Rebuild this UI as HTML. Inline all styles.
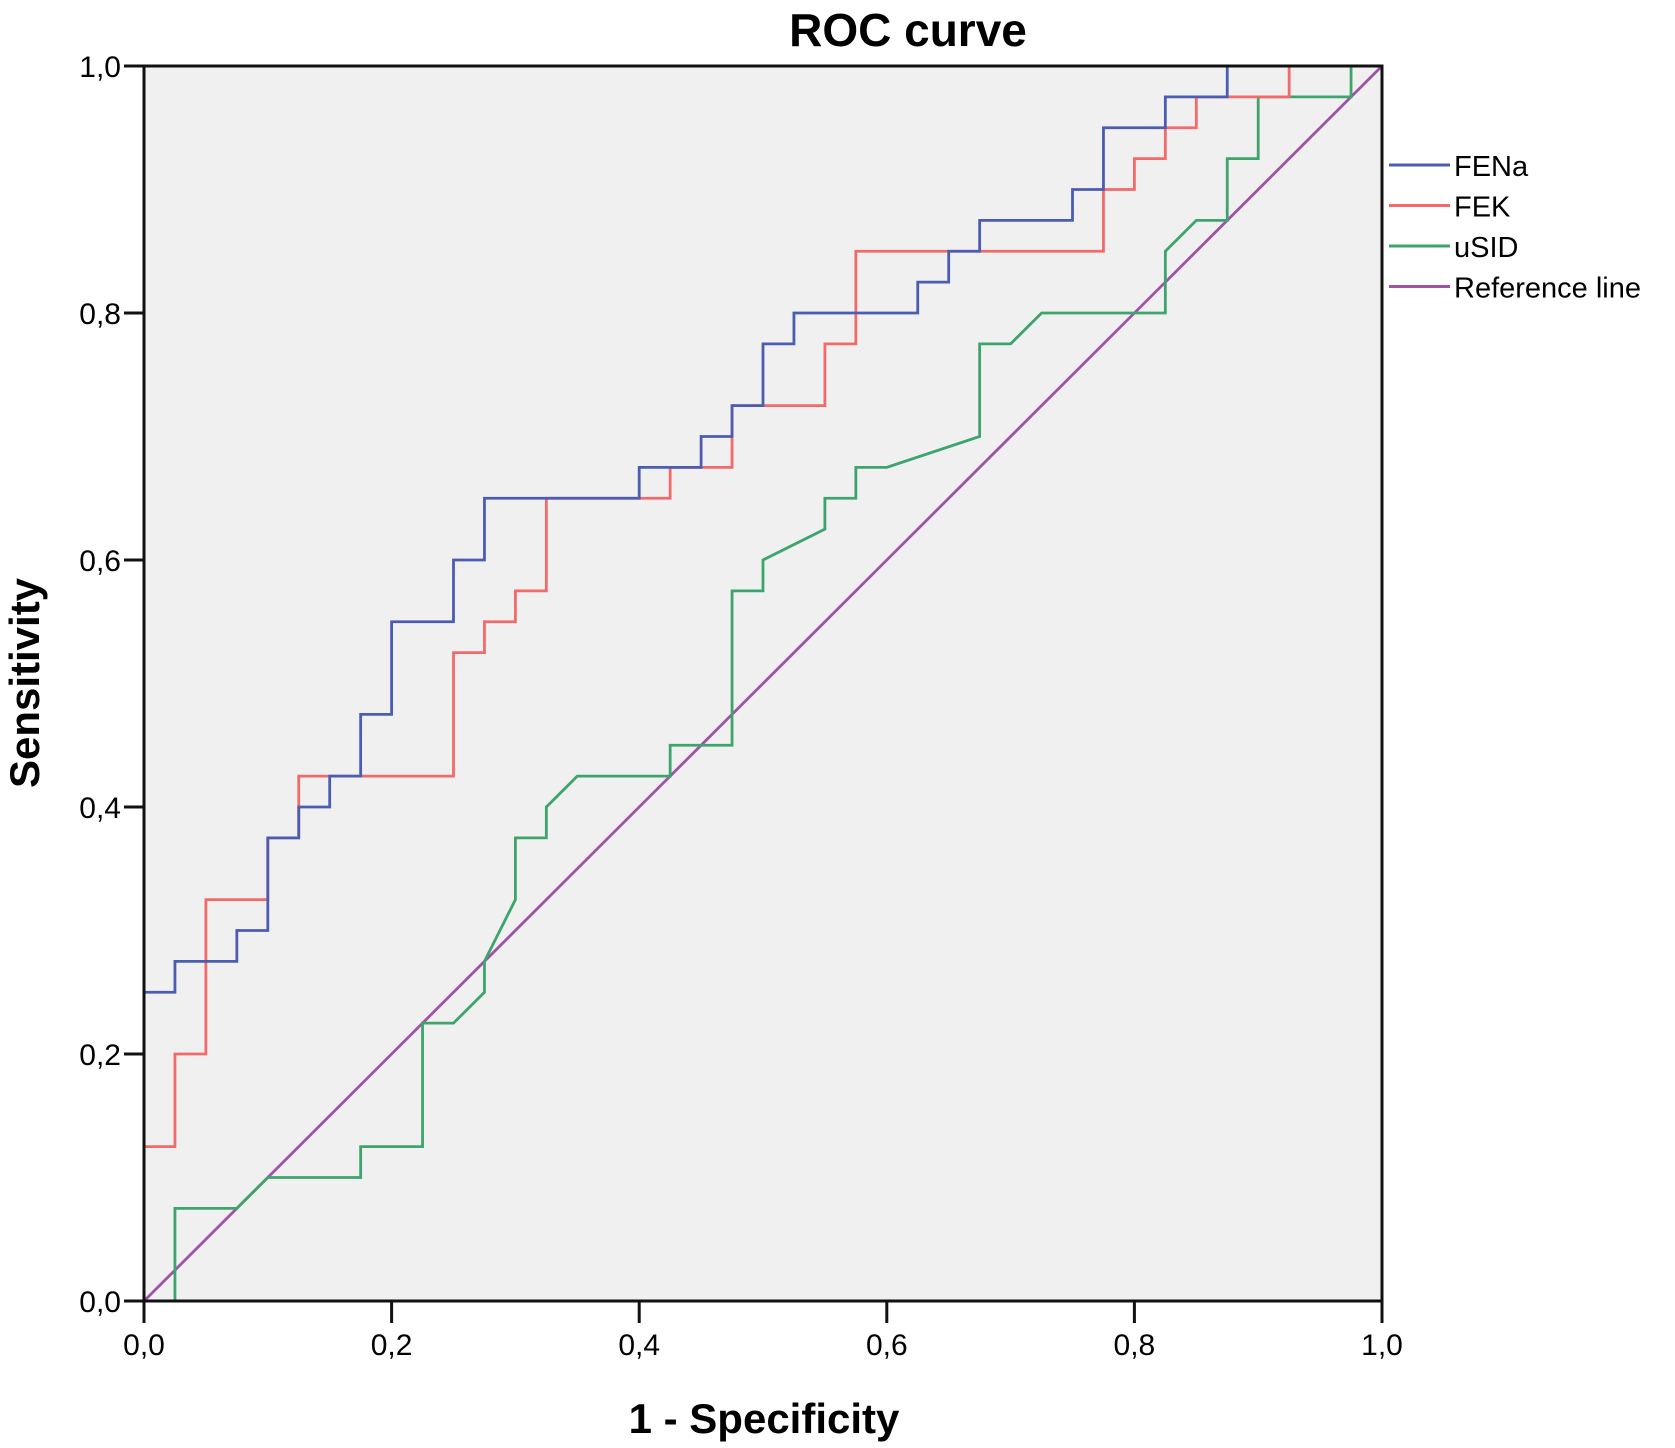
<!DOCTYPE html>
<html><head><meta charset="utf-8"><style>
body{margin:0;background:#fff;}
svg{display:block;font-family:"Liberation Sans",Arial,sans-serif;}
</style></head><body>
<svg id="chart" width="1675" height="1448" viewBox="0 0 1675 1448">
<text x="908" y="46" text-anchor="middle" font-size="46" font-weight="bold">ROC curve</text>
<rect x="144" y="66" width="1238" height="1235" fill="#f0f0f0"/>
<g id="series"></g>
<g id="axes"></g>
<text x="764" y="1433" text-anchor="middle" font-size="42" font-weight="bold">1 - Specificity</text>
<text transform="translate(39,683) rotate(-90)" text-anchor="middle" font-size="42" font-weight="bold">Sensitivity</text>
<g id="legend"></g>
</svg>
<script>
const ticks=[0,0.2,0.4,0.6,0.8,1.0];
const tickLabels=["0,0","0,2","0,4","0,6","0,8","1,0"];
const seriesNames=["FENa","FEK","uSID","Reference line"];
const fenaX=[0,0,0.025,0.025,0.075,0.075,0.1,0.1,0.125,0.125,0.15,0.15,0.175,0.175,0.2,0.2,0.25,0.25,0.275,0.275,0.4,0.4,0.45,0.45,0.475,0.475,0.5,0.5,0.525,0.525,0.625,0.625,0.65,0.65,0.675,0.675,0.75,0.75,0.775,0.775,0.825,0.825,0.875,0.875,1.0];
const fenaY=[0,0.25,0.25,0.275,0.275,0.3,0.3,0.375,0.375,0.4,0.4,0.425,0.425,0.475,0.475,0.55,0.55,0.6,0.6,0.65,0.65,0.675,0.675,0.7,0.7,0.725,0.725,0.775,0.775,0.8,0.8,0.825,0.825,0.85,0.85,0.875,0.875,0.9,0.9,0.95,0.95,0.975,0.975,1.0,1.0];
const fekX=[0,0,0.025,0.025,0.05,0.05,0.1,0.1,0.125,0.125,0.25,0.25,0.275,0.275,0.3,0.3,0.325,0.325,0.425,0.425,0.475,0.475,0.55,0.55,0.575,0.575,0.775,0.775,0.8,0.8,0.825,0.825,0.85,0.85,0.925,0.925,1.0];
const fekY=[0,0.125,0.125,0.2,0.2,0.325,0.325,0.375,0.375,0.425,0.425,0.525,0.525,0.55,0.55,0.575,0.575,0.65,0.65,0.675,0.675,0.725,0.725,0.775,0.775,0.85,0.85,0.9,0.9,0.925,0.925,0.95,0.95,0.975,0.975,1.0,1.0];
const usidX=[0,0.025,0.025,0.075,0.1,0.175,0.175,0.225,0.225,0.25,0.275,0.275,0.3,0.3,0.325,0.325,0.35,0.425,0.425,0.475,0.475,0.5,0.5,0.55,0.55,0.575,0.575,0.6,0.675,0.675,0.7,0.725,0.825,0.825,0.85,0.875,0.875,0.9,0.9,0.975,0.975,1.0];
const usidY=[0,0,0.075,0.075,0.1,0.1,0.125,0.125,0.225,0.225,0.25,0.275,0.325,0.375,0.375,0.4,0.425,0.425,0.45,0.45,0.575,0.575,0.6,0.625,0.65,0.65,0.675,0.675,0.7,0.775,0.775,0.8,0.8,0.85,0.875,0.875,0.925,0.925,0.975,0.975,1.0,1.0];
const refX=[0,1];
const refY=[0,1];
const NS="http://www.w3.org/2000/svg";
const X0=144,X1=1382,Y0=1301,Y1=66;
const sx=v=>X0+(X1-X0)*v, sy=v=>Y0-(Y0-Y1)*v;
function mk(t,a,p){const e=document.createElementNS(NS,t);for(const k in a)e.setAttribute(k,a[k]);p.appendChild(e);return e;}
const colors=["#4b5cb3","#f26a6a","#3da46c","#a052a8"];
const sg=document.getElementById('series');
const all=[[fenaX,fenaY],[fekX,fekY],[usidX,usidY],[refX,refY]];
const order=[3,2,1,0];
order.forEach(i=>{const [xs,ys]=all[i];
 const p=mk('polyline',{points:xs.map((x,j)=>sx(x)+','+sy(ys[j])).join(' '),fill:'none',stroke:colors[i],'stroke-width':2.8},sg);
 
 
});
const ag=document.getElementById('axes');
const fr=mk('rect',{x:X0,y:Y1,width:X1-X0,height:Y0-Y1,fill:'none',stroke:'#111','stroke-width':3},ag);


ticks.forEach((t,i)=>{
 mk('line',{x1:124,x2:X0,y1:sy(t),y2:sy(t),stroke:'#111','stroke-width':3},ag);
 const ly=mk('text',{x:121,y:sy(t)+11,'text-anchor':'end','font-size':30},ag);ly.textContent=tickLabels[i];
 
 
 mk('line',{x1:sx(t),x2:sx(t),y1:Y0,y2:Y0+22,stroke:'#111','stroke-width':3},ag);
 const lx=mk('text',{x:sx(t),y:1355,'text-anchor':'middle','font-size':30},ag);lx.textContent=tickLabels[i];
 
 
});
const lg=document.getElementById('legend');
seriesNames.forEach((n,i)=>{const y=165+40.5*i;
 const g=mk('g',{},lg);
 
 
 mk('line',{x1:1389,x2:1450,y1:y,y2:y,stroke:colors[i],'stroke-width':3},g);
 const t=mk('text',{x:1454,y:y+11,'font-size':29},g);t.textContent=n;
});
</script>
</body></html>
